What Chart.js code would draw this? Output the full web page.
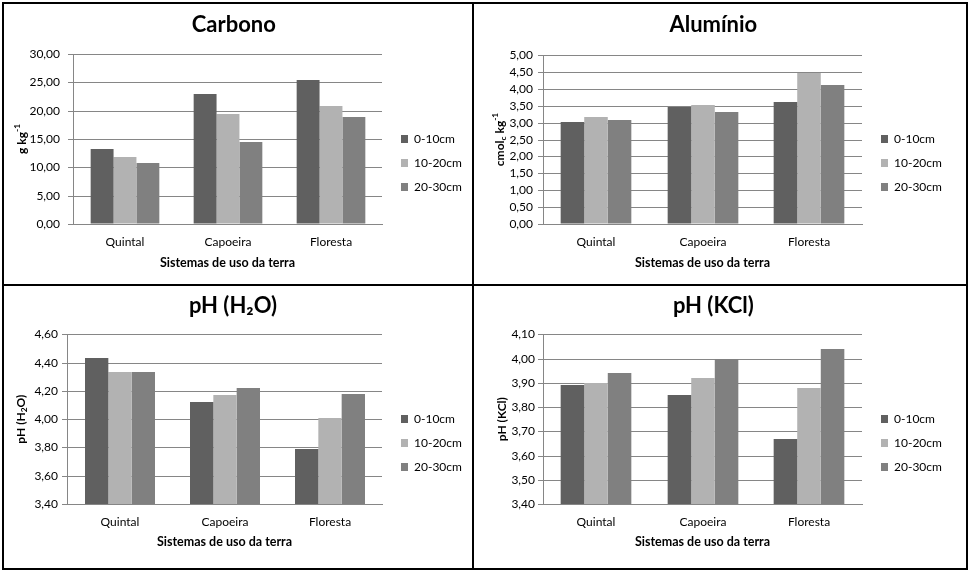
<!DOCTYPE html>
<html lang="pt">
<head>
<meta charset="UTF-8" />
<title>Atributos do solo</title>
<script src="https://cdn.jsdelivr.net/npm/chart.js"></script>
<style>
  body { margin: 0; background: #fff; }
  #wrap { position: relative; width: 970px; height: 572px; }
  canvas { position: absolute; }
  .line { position: absolute; background: #000; }
</style>
</head>
<body>
<div id="wrap">
  <canvas id="carbono" width="472" height="286" style="left:0;top:0"></canvas>
  <canvas id="aluminio" width="498" height="286" style="left:472px;top:0"></canvas>
  <canvas id="phh2o" width="472" height="286" style="left:0;top:286px"></canvas>
  <canvas id="phkcl" width="498" height="286" style="left:472px;top:286px"></canvas>

  <div class="line" style="left:2px;top:2px;width:966px;height:2px"></div>
  <div class="line" style="left:2px;top:568px;width:966px;height:2px"></div>
  <div class="line" style="left:2px;top:2px;width:2px;height:568px"></div>
  <div class="line" style="left:966px;top:2px;width:2px;height:568px"></div>
  <div class="line" style="left:472px;top:2px;width:2px;height:568px"></div>
  <div class="line" style="left:2px;top:284px;width:966px;height:2px"></div>
</div>

<script>
  // categorias e séries
  const sistemas = ['Quintal', 'Capoeira', 'Floresta'];
  const profundidades = ['0-10cm', '10-20cm', '20-30cm'];
  const cores = ['#606060', '#b2b2b2', '#808080'];

  // valores por profundidade (Quintal, Capoeira, Floresta)
  const carbono0_10 = [13.3, 22.9, 25.5];
  const carbono10_20 = [11.9, 19.5, 20.9];
  const carbono20_30 = [10.8, 14.5, 18.9];

  const aluminio0_10 = [3.01, 3.46, 3.61];
  const aluminio10_20 = [3.16, 3.51, 4.46];
  const aluminio20_30 = [3.08, 3.31, 4.11];

  const phH2O0_10 = [4.43, 4.12, 3.79];
  const phH2O10_20 = [4.33, 4.17, 4.01];
  const phH2O20_30 = [4.33, 4.22, 4.18];

  const phKCl0_10 = [3.89, 3.85, 3.67];
  const phKCl10_20 = [3.90, 3.92, 3.88];
  const phKCl20_30 = [3.94, 4.00, 4.04];

  // eixo y: min, max, passo
  const carbonoEixo = [0, 30, 5];
  const aluminioEixo = [0, 5, 0.5];
  const phH2OEixo = [3.4, 4.6, 0.2];
  const phKClEixo = [3.4, 4.1, 0.1];

  const xTitulo = 'Sistemas de uso da terra';
  const LEGEND_W = 80;

  // move a legenda para onde o Excel a coloca
  const placeLegend = {
    id: 'placeLegend',
    afterLayout(chart, args, opts) {
      const l = chart.legend;
      const p = l.options.labels.padding;
      const w = l.width, h = l.height;
      l.left = opts.x - p; l.right = l.left + w;
      l.top = opts.y - p; l.bottom = l.top + h;
    }
  };

  // título do eixo y com sobrescrito / subscrito
  const richYTitle = {
    id: 'richYTitle',
    afterDraw(chart, args, opts) {
      const parts = opts.parts;
      if (!parts) return;
      const ctx = chart.ctx;
      const size = opts.size;
      const font = p => 'bold ' + ((p.sub || p.sup) ? size * 0.7 : size) + 'px Lato';
      ctx.save();
      let total = 0;
      parts.forEach(p => { ctx.font = font(p); total += ctx.measureText(p.t).width; });
      const a = chart.chartArea;
      ctx.translate(opts.x, (a.top + a.bottom) / 2);
      ctx.rotate(-Math.PI / 2);
      ctx.textBaseline = 'middle';
      ctx.fillStyle = '#000';
      let x = -total / 2;
      parts.forEach(p => {
        ctx.font = font(p);
        const dy = p.sup ? -size * 0.4 : p.sub ? size * 0.3 : 0;
        ctx.fillText(p.t, x, dy);
        x += ctx.measureText(p.t).width;
      });
      ctx.restore();
    }
  };

  function barChart(id, c) {
    const H = 286;
    return new Chart(document.getElementById(id), {
      type: 'bar',
      data: {
        labels: sistemas,
        datasets: profundidades.map((nome, i) => ({
          label: nome,
          data: c.values[i],
          backgroundColor: cores[i],
          borderWidth: 0,
          categoryPercentage: 3 / 4.5,
          barPercentage: 1
        }))
      },
      options: {
        responsive: false,
        animation: false,
        layout: { padding: { left: c.padL, top: 0, right: c.padR, bottom: 0 } },
        plugins: {
          title: {
            display: true, text: c.title, color: '#000',
            font: { family: 'Lato', size: 22, weight: 'bold' },
            padding: { top: c.titleTop, bottom: c.titleBottom }
          },
          legend: {
            position: 'right', align: 'start', maxWidth: LEGEND_W,
            labels: { boxWidth: 7, boxHeight: 8, padding: 12, color: '#000', font: { family: 'Lato', size: 12 } }
          },
          tooltip: { enabled: false },
          placeLegend: { x: c.legX, y: c.legY },
          richYTitle: { parts: c.yTitle, x: c.yTitleX, size: 12 }
        },
        scales: {
          x: {
            alignToPixels: true,
            grid: { display: false, drawTicks: false },
            border: { color: '#868686' },
            ticks: { color: '#000', padding: c.xTickPad, font: { family: 'Lato', size: 12 } },
            title: {
              display: true, text: xTitulo, color: '#000',
              font: { family: 'Lato', size: 12.5, weight: 'bold' },
              padding: { top: 0, bottom: c.xTitleBottom }
            },
            afterFit(s) { s.height = H - c.plotBottom; }
          },
          y: {
            alignToPixels: true,
            min: c.axis[0], max: c.axis[1],
            ticks: {
              stepSize: c.axis[2], autoSkip: false, color: '#000', padding: c.yTickPad,
              font: { family: 'Lato', size: 12 },
              callback: v => v.toFixed(2).replace('.', ',')
            },
            grid: { color: '#868686', tickLength: 5 },
            border: { color: '#868686' },
            afterFit(s) { s.width = c.plotLeft - c.padL; }
          }
        }
      },
      plugins: [placeLegend, richYTitle]
    });
  }

  barChart('carbono', {
    title: 'Carbono', axis: carbonoEixo,
    values: [carbono0_10, carbono10_20, carbono20_30],
    yTitle: [{ t: 'g kg' }, { t: '-1', sup: true }],
    plotLeft: 73, plotBottom: 224, padL: 5.6, padR: 10,
    titleTop: 11.8, titleBottom: 15.8, legX: 401, legY: 133, yTitleX: 22,
    xTickPad: 11, xTitleBottom: 15.5, yTickPad: 8
  });

  barChart('aluminio', {
    title: 'Alumínio', axis: aluminioEixo,
    values: [aluminio0_10, aluminio10_20, aluminio20_30],
    yTitle: [{ t: 'cmol' }, { t: 'c', sub: true }, { t: ' kg' }, { t: '-1', sup: true }],
    plotLeft: 71, plotBottom: 224, padL: 12.6, padR: 28,
    titleTop: 11.8, titleBottom: 16.8, legX: 409, legY: 133, yTitleX: 28,
    xTickPad: 11, xTitleBottom: 15.5, yTickPad: 5
  });

  barChart('phh2o', {
    title: 'pH (H₂O)', axis: phH2OEixo,
    values: [phH2O0_10, phH2O10_20, phH2O20_30],
    yTitle: [{ t: 'pH (H' }, { t: '2', sub: true }, { t: 'O)' }],
    plotLeft: 67, plotBottom: 218, padL: 4, padR: 10,
    titleTop: 6.8, titleBottom: 15.1, legX: 401, legY: 127, yTitleX: 21,
    xTickPad: 10.5, xTitleBottom: 22.5, yTickPad: 4
  });

  barChart('phkcl', {
    title: 'pH (KCl)', axis: phKClEixo,
    values: [phKCl0_10, phKCl10_20, phKCl20_30],
    yTitle: [{ t: 'pH (KCl)' }],
    plotLeft: 71, plotBottom: 218, padL: 12.6, padR: 28,
    titleTop: 6.3, titleBottom: 15.6, legX: 409, legY: 127, yTitleX: 30,
    xTickPad: 10.5, xTitleBottom: 22.5, yTickPad: 3
  });
</script>
</body>
</html>
